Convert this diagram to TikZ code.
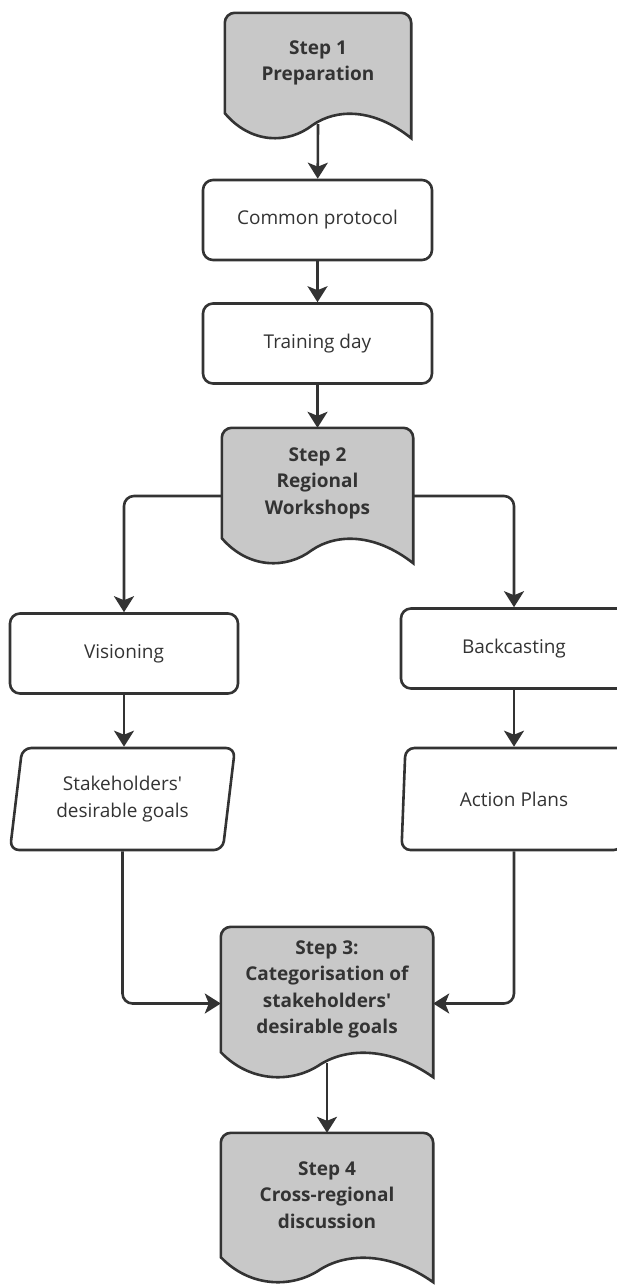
\documentclass[tikz,border=0pt]{standalone}
\usepackage{fontspec}
\setmainfont{Open Sans}
\usetikzlibrary{calc,arrows.meta,shapes.geometric,backgrounds}

\definecolor{linegray}{HTML}{333333}
\definecolor{stepgray}{HTML}{C8C8C8}

% Umriss eines Schritts: oben rund, unten Welle
\newcommand{\wavedoc}[1]{%
  \filldraw[docline] let \p1=(#1.south west), \p2=(#1.north east), \n1={\x2-\x1} in
    (\x1,\y1) -- (\x1,\y2-10pt) arc[start angle=180, end angle=90, radius=10pt]
    -- (\x2-10pt,\y2) arc[start angle=90, end angle=0, radius=10pt]
    -- (\x2,\y1-25pt)
    .. controls (\x1+0.8*\n1,\y1+5pt) and (\x1+0.6*\n1,\y1+5pt) .. (\x1+0.47*\n1,\y1-12pt)
    .. controls (\x1+0.34*\n1,\y1-31pt) and (\x1+0.14*\n1,\y1-31pt) .. (\x1,\y1) -- cycle;}

\begin{document}
\begin{tikzpicture}[x=1pt, y=-1pt,
    font=\fontsize{19}{26.5}\selectfont,
    docline/.style={draw=linegray, fill=stepgray, line width=2.6pt},
    stepbox/.style={align=center, text=linegray, font=\fontsize{19}{26.5}\selectfont\bfseries, inner sep=0pt},
    taskbox/.style={draw=linegray, line width=2.6pt, rounded corners=10pt, align=center, text=linegray,
      minimum height=80pt, inner sep=0pt},
    outbox/.style={trapezium, trapezium left angle=75, trapezium right angle=105, trapezium stretches body,
      draw=linegray, line width=2.6pt, rounded corners=9pt, align=center, text=linegray,
      minimum width=225pt, minimum height=102pt, inner sep=0pt},
    arr/.style={draw=linegray, line width=2.6pt, -{Stealth[length=16pt, width=20pt, inset=4pt]}}]

  \useasboundingbox (0,0) rectangle (617,1285);

  % Schritte
  \node[stepbox, minimum width=186pt, minimum height=100pt] (st1) at (318,63) {Step 1\\Preparation};
  \node[stepbox, minimum width=191pt, minimum height=110pt] (st2) at (317.5,483) {Step 2\\Regional\\Workshops};
  \node[stepbox, minimum width=212pt, minimum height=125pt] (st3) at (327,989.5)
    {Step 3:\\Categorisation of\\stakeholders\textquotesingle\\desirable goals};
  \node[stepbox, minimum width=212pt, minimum height=124pt] (st4) at (327,1195) {Step 4\\Cross-regional\\discussion};

  \begin{scope}[on background layer]
    \wavedoc{st1}
    \wavedoc{st2}
    \wavedoc{st3}
    \wavedoc{st4}
  \end{scope}

  % Aufgaben
  \node[taskbox, minimum width=229pt] (common) at (317.5,220) {Common protocol};
  \node[taskbox, minimum width=229pt] (training) at (317.5,343.5) {Training day};
  \node[taskbox, minimum width=228pt] (vis) at (124,653.5) {Visioning};
  \node[taskbox, minimum width=226pt] (back) at (514,648.5) {Backcasting};

  % Ergebnisse
  \node[outbox] (goals) at (122.5,799) {Stakeholders\textquotesingle\\desirable goals};
  \node[outbox] (plans) at (514,799) {Action Plans};

  % Pfeile
  \draw[arr] ([yshift=-11pt]st1.south) -- (common);
  \draw[arr] (common) -- (training);
  \draw[arr] (training) -- (st2);
  \draw[arr, rounded corners=10pt] ([yshift=-13pt]st2.west) -| (vis);
  \draw[arr, rounded corners=10pt] ([yshift=-13pt]st2.east) -| (back);
  \draw[arr] (vis.south) -- (vis.south |- goals.north);
  \draw[arr] (back.south) -- (back.south |- plans.north);
  \draw[arr, rounded corners=10pt] (goals.south) |- ([yshift=-14pt]st3.west);
  \draw[arr, rounded corners=10pt] (plans.south) |- ([yshift=-14pt]st3.east);
  \draw[arr] ([yshift=-11pt]st3.south) -- (st4);

\end{tikzpicture}
\end{document}
